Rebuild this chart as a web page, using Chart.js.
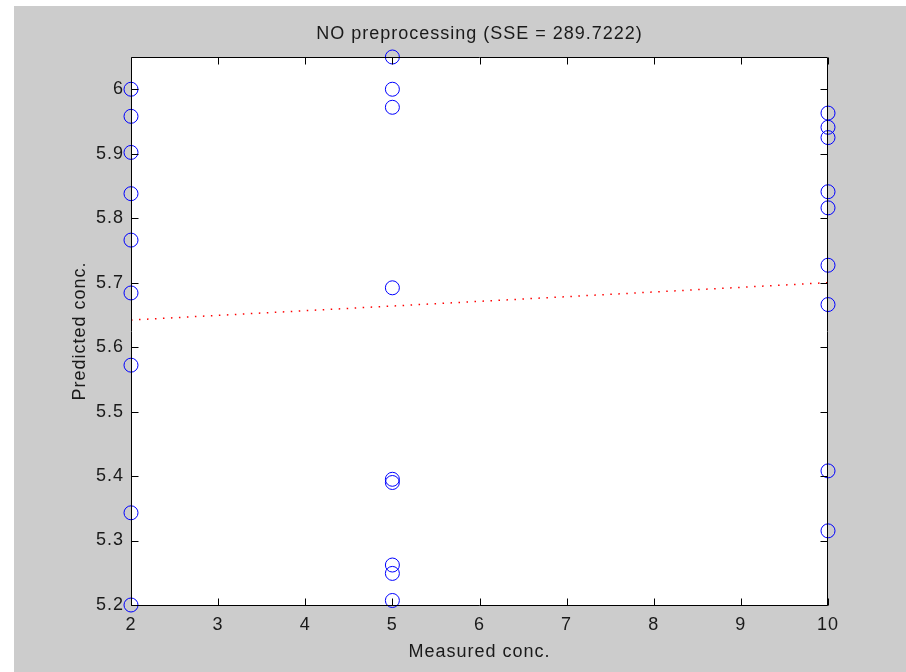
<!DOCTYPE html>
<html>
<head>
<meta charset="utf-8">
<script src="https://cdn.jsdelivr.net/npm/chart.js@4.4.1/dist/chart.umd.min.js"></script>
<style>
  html, body { margin: 0; padding: 0; background: #ffffff; }
  #wrap { position: relative; width: 906px; height: 672px; }
  canvas { display: block; }
</style>
</head>
<body>
<div id="wrap"><canvas id="chart" width="906" height="672"></canvas></div>
<script>
// Measured vs predicted concentrations (three calibration levels, nine samples each)
const measuredConc = [
  2, 2, 2, 2, 2, 2, 2, 2, 2,
  5, 5, 5, 5, 5, 5, 5, 5, 5,
  10, 10, 10, 10, 10, 10, 10, 10, 10
];
const predictedConc = [
  6.000, 5.958, 5.902, 5.838, 5.766, 5.684, 5.572, 5.343, 5.200,
  6.050, 6.000, 5.972, 5.692, 5.395, 5.390, 5.262, 5.249, 5.207,
  5.963, 5.941, 5.925, 5.841, 5.816, 5.727, 5.666, 5.408, 5.315
];

// Least-squares fit line endpoints
const fitX = [2, 10];
const fitY = [5.642, 5.700];

// Axis ticks
const xTicks = [2, 3, 4, 5, 6, 7, 8, 9, 10];
const xTickLabels = ['2', '3', '4', '5', '6', '7', '8', '9', '10'];
const yTicks = [5.2, 5.3, 5.4, 5.5, 5.6, 5.7, 5.8, 5.9, 6.0];
const yTickLabels = ['5.2', '5.3', '5.4', '5.5', '5.6', '5.7', '5.8', '5.9', '6'];

const titleText = 'NO preprocessing (SSE = 289.7222)';
const xLabelText = 'Measured conc.';
const yLabelText = 'Predicted conc.';

const FONT = '18px "Liberation Sans", Arial, sans-serif';
const INK = '#1a1a1a';

const scatterPoints = measuredConc.map((x, i) => ({ x: x, y: predictedConc[i] }));
const fitPoints = fitX.map((x, i) => ({ x: x, y: fitY[i] }));

// Figure background, white axes area, letter spacing for all text
const backdrop = {
  id: 'backdrop',
  beforeDraw(chart) {
    const ctx = chart.ctx;
    const a = chart.chartArea;
    ctx.save();
    ctx.fillStyle = '#ffffff';
    ctx.fillRect(0, 0, chart.width, chart.height);
    ctx.fillStyle = '#cccccc';
    ctx.fillRect(14, 6, chart.width - 14, chart.height - 6);
    ctx.fillStyle = '#ffffff';
    ctx.fillRect(a.left, a.top, a.right - a.left, a.bottom - a.top);
    ctx.restore();
    ctx.letterSpacing = '1px';
  }
};

// Box outline with inward tick marks on all four sides, plus titles
const axesFrame = {
  id: 'axesFrame',
  afterDatasetsDraw(chart) {
    const ctx = chart.ctx;
    const a = chart.chartArea;
    const xs = chart.scales.x;
    const ys = chart.scales.y;
    const L = Math.round(a.left) + 0.5;
    const R = Math.round(a.right) - 0.5;
    const T = Math.round(a.top) + 0.5;
    const B = Math.round(a.bottom) + 0.5;
    const tl = 7;
    ctx.save();
    ctx.strokeStyle = '#000000';
    ctx.lineWidth = 1;
    ctx.beginPath();
    ctx.rect(L, T, R - L, B - T);
    xTicks.forEach(v => {
      const px = Math.round(xs.getPixelForValue(v)) + 0.5;
      ctx.moveTo(px, B); ctx.lineTo(px, B - tl);
      ctx.moveTo(px, T); ctx.lineTo(px, T + tl);
    });
    yTicks.forEach(v => {
      const py = Math.round(ys.getPixelForValue(v)) + 0.5;
      ctx.moveTo(L, py); ctx.lineTo(L + tl, py);
      ctx.moveTo(R, py); ctx.lineTo(R - tl, py);
    });
    ctx.stroke();

    ctx.fillStyle = INK;
    ctx.font = FONT;
    ctx.letterSpacing = '1px';
    ctx.textAlign = 'center';
    ctx.textBaseline = 'alphabetic';
    const cx = (a.left + a.right) / 2;
    ctx.fillText(titleText, cx, 39);
    ctx.fillText(xLabelText, cx, 657);
    ctx.translate(85, (a.top + a.bottom) / 2);
    ctx.rotate(-Math.PI / 2);
    ctx.fillText(yLabelText, 0, 0);
    ctx.restore();
  }
};

new Chart(document.getElementById('chart'), {
  type: 'scatter',
  data: {
    datasets: [
      {
        label: 'Samples',
        data: scatterPoints,
        showLine: false,
        pointStyle: 'circle',
        pointRadius: 7,
        pointHoverRadius: 7,
        pointBorderWidth: 1,
        pointBorderColor: '#0000ff',
        pointBackgroundColor: 'rgba(0,0,0,0)',
        clip: false,
        order: 1
      },
      {
        label: 'Fit',
        data: fitPoints,
        showLine: true,
        borderColor: '#ff0000',
        borderWidth: 1.5,
        borderDash: [1.5, 6.5],
        pointRadius: 0,
        pointHoverRadius: 0,
        fill: false,
        clip: false,
        order: 2
      }
    ]
  },
  options: {
    responsive: false,
    animation: false,
    devicePixelRatio: 1,
    layout: { padding: { top: 57, right: 78, left: 0, bottom: 0 } },
    plugins: {
      legend: { display: false },
      title: { display: false },
      tooltip: { enabled: false }
    },
    events: [],
    scales: {
      x: {
        type: 'linear',
        min: 2,
        max: 10,
        grid: { display: false, drawTicks: false },
        border: { display: false },
        afterFit(scale) { scale.height = 67; },
        afterBuildTicks(scale) { scale.ticks = xTicks.map(v => ({ value: v })); },
        ticks: {
          color: INK,
          font: { family: '"Liberation Sans", Arial, sans-serif', size: 18 },
          padding: 9,
          maxRotation: 0,
          autoSkip: false,
          callback: (v, i) => xTickLabels[i]
        }
      },
      y: {
        type: 'linear',
        min: 5.2,
        max: 6.05,
        grid: { display: false, drawTicks: false },
        border: { display: false },
        afterFit(scale) { scale.width = 131; },
        afterBuildTicks(scale) { scale.ticks = yTicks.map(v => ({ value: v })); },
        ticks: {
          color: INK,
          font: { family: '"Liberation Sans", Arial, sans-serif', size: 18 },
          padding: 7,
          autoSkip: false,
          callback: (v, i) => yTickLabels[i]
        }
      }
    }
  },
  plugins: [backdrop, axesFrame]
});
</script>
</body>
</html>
